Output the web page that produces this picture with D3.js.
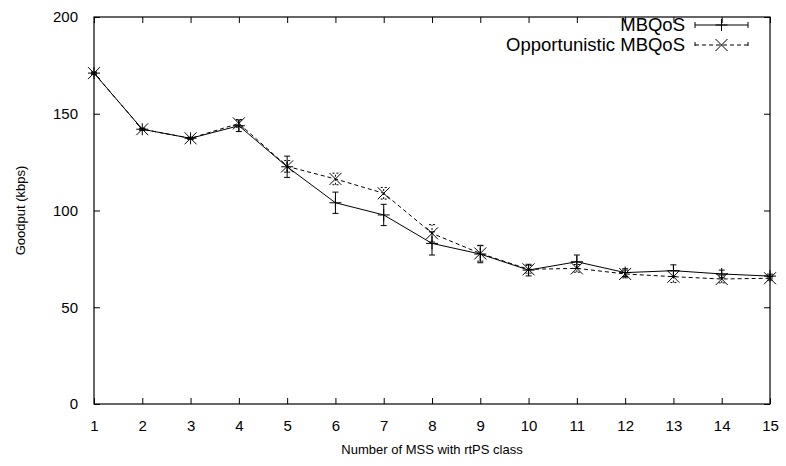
<!DOCTYPE html>
<html>
<head>
<meta charset="utf-8">
<script src="https://cdn.jsdelivr.net/npm/d3@7"></script>
<style>
  body { margin: 0; background: #fff; }
  svg { font-family: "Liberation Sans", Arial, sans-serif; }
</style>
</head>
<body>
<div id="vis"></div>
<script>
// data
var mss = [1, 2, 3, 4, 5, 6, 7, 8, 9, 10, 11, 12, 13, 14, 15];
var mbqos = [171, 142, 137.3, 143.8, 122.6, 104, 97.7, 83, 77.5, 69.2, 73.5, 67.9, 68.9, 67.2, 66.1];
var mbqosErr = [0.5, 0.5, 0.5, 3, 5.5, 5.5, 5.5, 6, 4.5, 3, 3.5, 2, 3, 2, 1];
var opp = [171, 142, 137.3, 145, 122.8, 116.3, 108.9, 88.2, 77.8, 69.6, 70.1, 67.2, 65.8, 64.6, 65];
var oppErr = [0.5, 0.5, 0.5, 2, 3, 3, 3, 4.5, 4, 2, 2, 2, 3, 2, 1];
var yTicks = [0, 50, 100, 150, 200];
var seriesNames = ["MBQoS", "Opportunistic MBQoS"];

var W = 786, H = 466;
var margin = {top: 17, right: 16, bottom: 62, left: 94};
var width = W - margin.left - margin.right,
    height = H - margin.top - margin.bottom;

var svg = d3.select("#vis").append("svg")
    .attr("width", W)
    .attr("height", H);

var g = svg.append("g")
    .attr("transform", "translate(" + margin.left + "," + margin.top + ")");

var x = d3.scaleLinear().domain([1, 15]).range([0, width]);
var y = d3.scaleLinear().domain([0, 200]).range([height, 0]);

var tickLen = 6;

// ticks (inside, mirrored like gnuplot)
g.append("g")
    .attr("transform", "translate(0," + height + ")")
    .call(d3.axisBottom(x).tickValues(mss).tickSize(-tickLen).tickPadding(16).tickFormat(d3.format("d")))
    .call(function(a) {
      a.select(".domain").remove();
      a.selectAll("text").attr("font-size", 15).attr("fill", "#000").attr("font-family", "Liberation Sans, Arial, sans-serif");
    });

g.append("g")
    .call(d3.axisTop(x).tickValues(mss).tickSize(-tickLen).tickFormat(""))
    .call(function(a) { a.select(".domain").remove(); });

g.append("g")
    .call(d3.axisLeft(y).tickValues(yTicks).tickSize(-tickLen).tickPadding(16))
    .call(function(a) {
      a.select(".domain").remove();
      a.selectAll("text").attr("font-size", 15).attr("fill", "#000").attr("font-family", "Liberation Sans, Arial, sans-serif");
    });

g.append("g")
    .attr("transform", "translate(" + width + ",0)")
    .call(d3.axisRight(y).tickValues(yTicks).tickSize(-tickLen).tickFormat(""))
    .call(function(a) { a.select(".domain").remove(); });

// frame
g.append("rect")
    .attr("width", width)
    .attr("height", height)
    .attr("fill", "none")
    .attr("stroke", "#000")
    .attr("stroke-width", 1.2);

// axis titles
svg.append("text")
    .attr("x", margin.left + width / 2)
    .attr("y", 454)
    .attr("text-anchor", "middle")
    .attr("font-size", 13)
    .text("Number of MSS with rtPS class");

svg.append("text")
    .attr("transform", "translate(25," + (margin.top + height / 2) + ") rotate(-90)")
    .attr("text-anchor", "middle")
    .attr("font-size", 13)
    .text("Goodput (kbps)");

var series = [
  {name: seriesNames[0], vals: mbqos, err: mbqosErr, dash: null, mark: "plus"},
  {name: seriesNames[1], vals: opp, err: oppErr, dash: "4,3", mark: "cross"}
];

var line = d3.line()
    .x(function(d) { return x(d.x); })
    .y(function(d) { return y(d.y); });

var capW = 3, mk = 6;

function marker(sel, type, cx, cy) {
  if (type === "plus") {
    sel.append("path")
      .attr("d", "M" + (cx - mk) + "," + cy + "H" + (cx + mk) + "M" + cx + "," + (cy - mk) + "V" + (cy + mk));
  } else {
    sel.append("path")
      .attr("d", "M" + (cx - mk) + "," + (cy - mk) + "L" + (cx + mk) + "," + (cy + mk) +
                 "M" + (cx - mk) + "," + (cy + mk) + "L" + (cx + mk) + "," + (cy - mk));
  }
}

series.forEach(function(s) {
  var pts = mss.map(function(m, i) { return {x: m, y: s.vals[i], e: s.err[i]}; });
  var sg = g.append("g").attr("stroke", "#000").attr("fill", "none").attr("stroke-width", 1);

  sg.append("path")
    .datum(pts)
    .attr("d", line)
    .attr("stroke-dasharray", s.dash);

  pts.forEach(function(p) {
    var cx = x(p.x), y0 = y(p.y - p.e), y1 = y(p.y + p.e);
    sg.append("path")
      .attr("d", "M" + cx + "," + y0 + "V" + y1 +
                 "M" + (cx - capW) + "," + y0 + "H" + (cx + capW) +
                 "M" + (cx - capW) + "," + y1 + "H" + (cx + capW))
      .attr("stroke-dasharray", s.dash ? "2,2" : null);
    marker(sg, s.mark, cx, y(p.y));
  });
});

// legend
var legend = svg.append("g")
    .selectAll("g")
    .data(series)
    .enter().append("g")
      .attr("transform", function(d, i) { return "translate(0," + (25 + i * 20) + ")"; });

legend.append("text")
    .attr("x", 685)
    .attr("dy", "0.35em")
    .attr("text-anchor", "end")
    .attr("font-size", 18.5)
    .text(function(d) { return d.name; });

legend.each(function(d) {
  var lg = d3.select(this).append("g").attr("stroke", "#000").attr("fill", "none");
  lg.append("path")
    .attr("d", "M695,0H748M695,-3V3M748,-3V3")
    .attr("stroke-dasharray", d.dash);
  marker(lg, d.mark, 721.5, 0);
});
</script>
</body>
</html>
